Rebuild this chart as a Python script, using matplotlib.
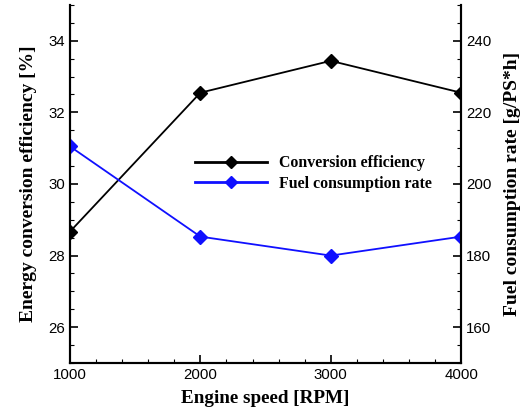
import matplotlib
matplotlib.use("Agg")
import matplotlib.pyplot as plt
from matplotlib.ticker import MultipleLocator

rpm = [1000, 2000, 3000, 4000]
efficiency = [28.67, 32.55, 33.44, 32.55]
fuel_rate = [210.5, 185.3, 180.0, 185.3]

serif = dict(family="Liberation Serif", fontweight="bold")

fig = plt.figure(figsize=(5.25, 4.13), dpi=100)
ax = fig.add_axes([0.1333, 0.1211, 0.745, 0.8668])
ax2 = ax.twinx()

l1, = ax.plot(rpm, efficiency, color="black", lw=1.3, marker="D", ms=7,
              label="Conversion efficiency")
l2, = ax2.plot(rpm, fuel_rate, color="#1010ff", lw=1.3, marker="D", ms=7,
               label="Fuel consumption rate")

ax.set_xlim(1000, 4000)
ax.set_ylim(25, 35)
ax2.set_ylim(150, 250)

ax.xaxis.set_major_locator(MultipleLocator(1000))
ax.xaxis.set_minor_locator(MultipleLocator(200))
ax.yaxis.set_major_locator(MultipleLocator(2))
ax.yaxis.set_minor_locator(MultipleLocator(0.5))
ax2.yaxis.set_major_locator(MultipleLocator(20))
ax2.yaxis.set_minor_locator(MultipleLocator(5))

for a in (ax, ax2):
    a.tick_params(which="major", direction="in", length=6, width=1.2,
                  labelsize=10.8)
    a.tick_params(which="minor", direction="in", length=3, width=0.8)
    for lab in a.get_xticklabels() + a.get_yticklabels():
        lab.set_family("Liberation Sans")
    for s in a.spines.values():
        s.set_linewidth(1.5)
ax.spines["top"].set_visible(False)
ax2.spines["top"].set_visible(False)
ax.tick_params(axis="y", which="both", right=False)

ax.set_xlabel("Engine speed [RPM]", fontsize=13.8, labelpad=6, **serif)
ax.set_ylabel("Energy conversion efficiency [%]", fontsize=14, labelpad=8, **serif)
ax2.set_ylabel("Fuel consumption rate [g/PS*h]", fontsize=14, labelpad=9, **serif)

leg = ax.legend(handles=[l1, l2], loc="upper left", bbox_to_anchor=(0.284, 0.62),
                frameon=False, handlelength=4.5, handletextpad=0.8,
                markerscale=0.85, labelspacing=0.3,
                prop=dict(family="Liberation Serif", weight="bold", size=11.4))
for h in leg.legend_handles:
    h.set_linewidth(2)

fig.savefig("out.png", dpi=100)
